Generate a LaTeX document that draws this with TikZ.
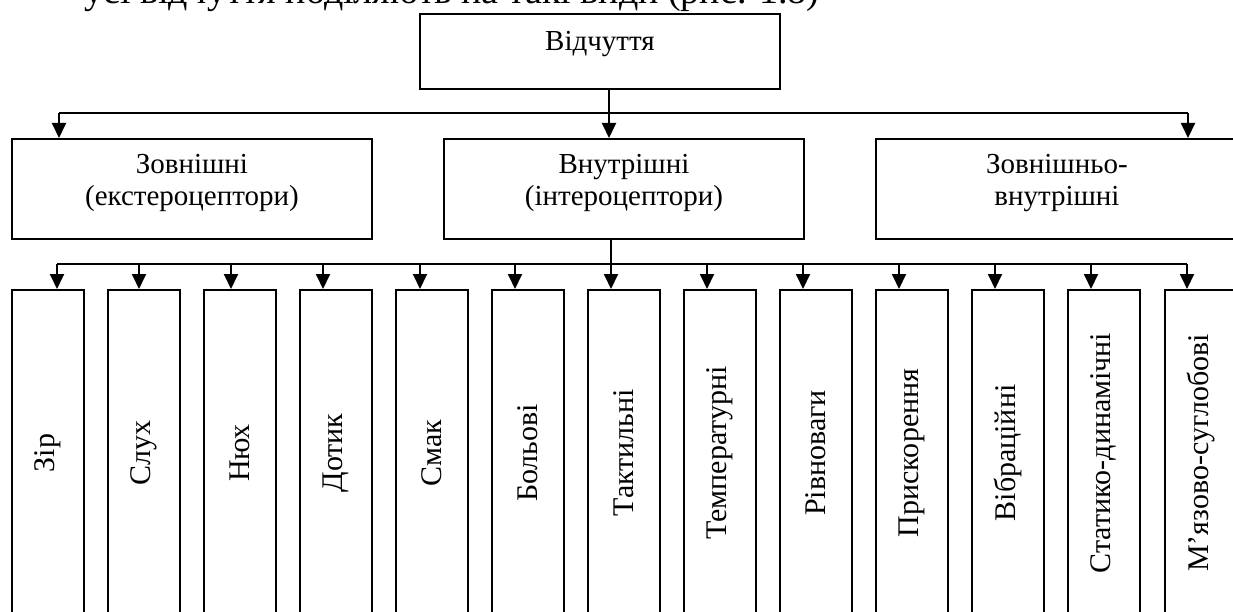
\documentclass[tikz,border=0pt]{standalone}
\usepackage{fontspec}
\setmainfont{Liberation Serif}
\usetikzlibrary{arrows.meta}
\begin{document}
\begin{tikzpicture}[x=1pt,y=-1pt,
  box/.style={draw, line width=1.9pt, inner sep=0pt, rectangle},
  lvl/.style={box, anchor=north west, font=\fontsize{29}{32}\selectfont},
  leaf/.style={box, anchor=north west, minimum width=72pt, minimum height=326pt, font=\fontsize{30}{32}\selectfont},
  arr/.style={line width=1.9pt, -{Triangle[length=15pt,width=14pt]}},
  bus/.style={line width=1.9pt}]
\useasboundingbox (0,0) rectangle (1233,612);

\node[font=\fontsize{38}{42}\selectfont, anchor=base west, inner sep=0pt] (intro) at (84,4) {усі відчуття поділяють на такі види (рис. 1.8)};

\node[lvl, minimum width=360pt, minimum height=75pt] (top) at (419,13)
  {\parbox[c][75pt][t]{350pt}{\centering\rule{0pt}{37pt}Відчуття}};

\node[lvl, minimum width=360pt, minimum height=100pt] (z1) at (11,138)
  {\parbox[c][100pt][t]{350pt}{\centering\rule{0pt}{35pt}Зовнішні\\(екстероцептори)}};
\node[lvl, minimum width=360pt, minimum height=100pt] (z2) at (443,138)
  {\parbox[c][100pt][t]{350pt}{\centering\rule{0pt}{35pt}Внутрішні\\(інтероцептори)}};
\node[lvl, minimum width=362pt, minimum height=100pt] (z3) at (875,138)
  {\parbox[c][100pt][t]{352pt}{\centering\rule{0pt}{35pt}Зовнішньо-\\внутрішні}};

\coordinate (l1) at (59,113);
\coordinate (j1) at (609,113);
\coordinate (r1) at (1188,113);
\draw[bus] (top.south -| j1) -- (j1);
\draw[bus] (l1) -- (r1);
\draw[arr] (l1) -- (l1 |- z1.north);
\draw[arr] (j1) -- (j1 |- z2.north);
\draw[arr] (r1) -- (r1 |- z3.north);

\foreach \i/\x/\ax/\t in {1/11/57/Зір, 2/107/139/Слух, 3/203/231/Нюх, 4/299/323/Дотик,
  5/395/420/Смак, 6/491/515/Больові, 7/587/611/Тактильні, 8/683/707/Температурні,
  9/779/803/Рівноваги, 10/875/899/Прискорення, 11/971/995/Вібраційні,
  12/1067/1091/Статико-динамічні, 13/1164/1187/М’язово-суглобові} {
  \node[leaf] (b\i) at (\x,289) {\rotatebox{90}{\t}};
  \coordinate (t\i) at (\ax,264);
  \draw[arr] (t\i) -- (t\i |- b\i.north);
}
\draw[bus] (t1) -- (t13);
\draw[bus] (z2.south -| t7) -- (t7);
\end{tikzpicture}
\end{document}
